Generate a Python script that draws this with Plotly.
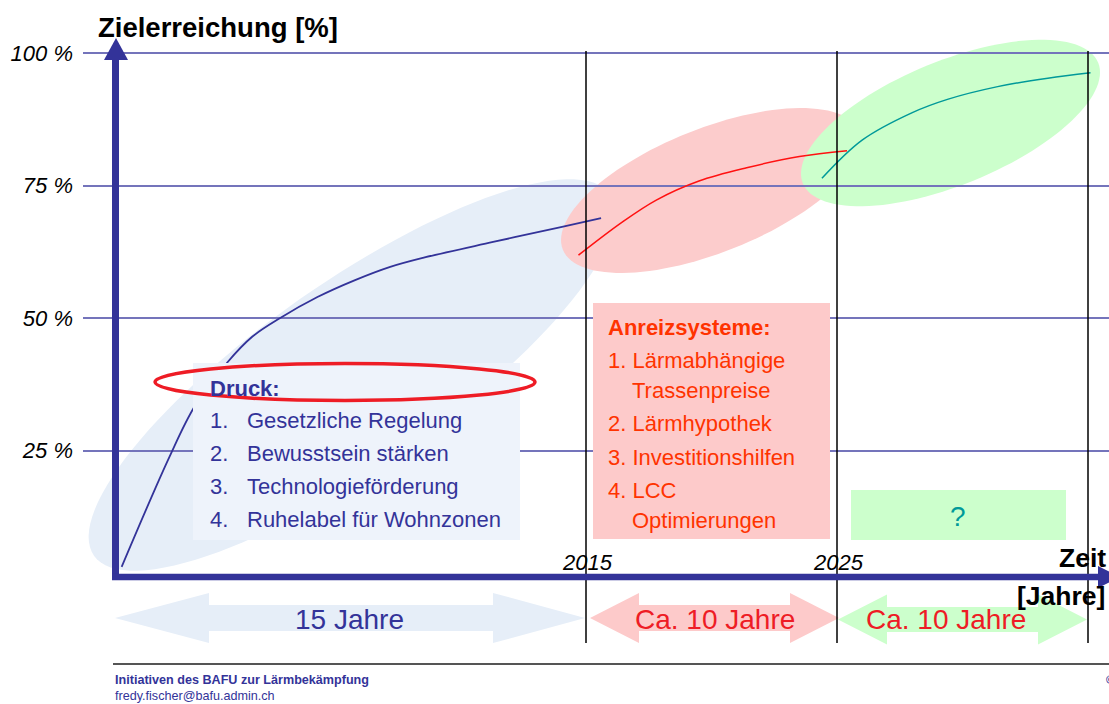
import numpy as np
import plotly.graph_objects as go

# ---------------- data ----------------
blue_years = [1996.5, 1998.4, 1999.4, 2000.7, 2001.7, 2002.8, 2004.3, 2005.8, 2007.2, 2008.5, 2011.3, 2014.0, 2015.6]
blue_pct = [3.1, 23.8, 33.3, 41.6, 46.5, 50.0, 54.0, 57.2, 59.7, 61.4, 64.4, 67.2, 68.9]
red_years = [2014.7, 2016.4, 2017.8, 2019.5, 2021.4, 2023.5, 2025.4]
red_pct = [61.9, 68.0, 72.3, 75.9, 78.4, 80.5, 81.6]
teal_years = [2024.4, 2026.0, 2028.0, 2029.4, 2031.4, 2033.4, 2035.1]
teal_pct = [76.4, 83.6, 88.8, 91.3, 93.7, 95.3, 96.3]

y_ticks = [25, 50, 75, 100]
y_tick_labels = ["25 %", "50 %", "75 %", "100 %"]
milestone_years = [2015, 2025, 2035]
milestone_labels = ["2015", "2025", ""]
period_labels = ["15 Jahre", "Ca. 10 Jahre", "Ca. 10 Jahre"]
druck_title = "Druck:"
druck_items = ["Gesetzliche Regelung", "Bewusstsein stärken",
               "Technologieförderung", "Ruhelabel für Wohnzonen"]
anreiz_title = "Anreizsysteme:"
anreiz_lines = ["1. Lärmabhängige", "Trassenpreise", "2. Lärmhypothek",
                "3. Investitionshilfen", "4. LCC", "Optimierungen"]
title_y = "Zielerreichung [%]"
footer_lines = ["Initiativen des BAFU zur Lärmbekämpfung", "fredy.fischer@bafu.admin.ch"]

# ---------------- styling ----------------
FONT = "Liberation Sans, Arial, sans-serif"
NAVY = "#333399"
W, H = 1109, 704
ML = 83                   # left edge of the plotting area (pixels)

fig = go.Figure()

spl = dict(shape="spline", smoothing=1.0)
fig.add_trace(go.Scatter(x=blue_years, y=blue_pct, mode="lines",
                         line=dict(color=NAVY, width=1.8, **spl),
                         hoverinfo="skip", showlegend=False))
fig.add_trace(go.Scatter(x=red_years, y=red_pct, mode="lines",
                         line=dict(color="#ff1111", width=1.5, **spl),
                         hoverinfo="skip", showlegend=False))
fig.add_trace(go.Scatter(x=teal_years, y=teal_pct, mode="lines",
                         line=dict(color="#009999", width=1.5, **spl),
                         hoverinfo="skip", showlegend=False))
# empty trace to instantiate the pixel overlay axes
fig.add_trace(go.Scatter(x=[], y=[], xaxis="x2", yaxis="y2", showlegend=False, hoverinfo="skip"))


def ellipse_path(cx, cy, a, b, deg, n=120):
    t = np.linspace(0, 2 * np.pi, n, endpoint=False)
    th = np.radians(deg)
    xs = cx + a * np.cos(t) * np.cos(th) + b * np.sin(t) * np.sin(th)
    ys = cy - a * np.cos(t) * np.sin(th) + b * np.sin(t) * np.cos(th)
    return "M " + " L ".join(f"{x:.1f},{y:.1f}" for x, y in zip(xs, ys)) + " Z"


def poly(pts):
    return "M " + " L ".join(f"{x},{y}" for x, y in pts) + " Z"


def dbl_arrow(x0, xb0, xb1, x1, yc, hh, sh):
    return poly([(x0, yc), (xb0, yc - hh), (xb0, yc - sh), (xb1, yc - sh), (xb1, yc - hh),
                 (x1, yc), (xb1, yc + hh), (xb1, yc + sh), (xb0, yc + sh), (xb0, yc + hh)])


shapes = []
P = dict(xref="x2", yref="y2")
# background ellipses (below gridlines)
shapes.append(dict(type="path", path=ellipse_path(352, 375, 315, 92, 35), fillcolor="#e6eef8",
                   line=dict(width=0), layer="below", **P))
shapes.append(dict(type="path", path=ellipse_path(711, 190.5, 159.5, 62, 21.7), fillcolor="#fccccc",
                   line=dict(width=0), layer="below", **P))
shapes.append(dict(type="path", path=ellipse_path(950.5, 123, 159.5, 62, 22.2), fillcolor="#ccffcc",
                   line=dict(width=0), layer="below", **P))

# period arrows
shapes.append(dict(type="path", path=dbl_arrow(115, 209, 493, 585, 618, 25, 13), fillcolor="#e6eef8",
                   line=dict(width=0), layer="above", **P))
shapes.append(dict(type="path", path=dbl_arrow(590, 639, 790, 839, 618, 25, 13), fillcolor="#fdcaca",
                   line=dict(width=0), layer="above", **P))
shapes.append(dict(type="path", path=dbl_arrow(838, 887, 1038, 1087, 619.5, 25, 12.5), fillcolor="#ccffcc",
                   line=dict(width=0), layer="above", **P))

# text boxes
shapes.append(dict(type="rect", x0=193, x1=520, y0=363, y1=540, fillcolor="#eef3fb",
                   line=dict(width=0), layer="above", **P))
shapes.append(dict(type="rect", x0=593, x1=830, y0=303, y1=539, fillcolor="#fdcaca",
                   line=dict(width=0), layer="above", **P))
shapes.append(dict(type="rect", x0=851, x1=1066, y0=490, y1=540, fillcolor="#ccffcc",
                   line=dict(width=0), layer="above", **P))

# red highlight ellipse around "Druck:"
shapes.append(dict(type="circle", x0=155, x1=535, y0=363.5, y1=400.5, fillcolor="rgba(0,0,0,0)",
                   line=dict(color="#ee1c25", width=3.5), layer="above", **P))

# milestone vertical lines
for yr in milestone_years:
    shapes.append(dict(type="line", xref="x", yref="y2", x0=yr, x1=yr, y0=51, y1=643,
                       line=dict(color="black", width=1.5), layer="above"))

# axes arrows
shapes.append(dict(type="line", x0=115.5, x1=115.5, y0=580, y1=58, line=dict(color=NAVY, width=7),
                   layer="above", **P))
shapes.append(dict(type="path", path=poly([(116, 38), (104, 60), (128, 60)]), fillcolor=NAVY,
                   line=dict(width=0), layer="above", **P))
shapes.append(dict(type="line", x0=112, x1=1100, y0=577, y1=577, line=dict(color=NAVY, width=6.5),
                   layer="above", **P))
shapes.append(dict(type="path", path=poly([(1120, 577), (1098, 566), (1098, 588)]), fillcolor=NAVY,
                   line=dict(width=0), layer="above", **P))

# footer rule
shapes.append(dict(type="line", x0=113, x1=1109, y0=664, y1=664, line=dict(color="#555555", width=2),
                   layer="above", **P))

ann = []


def txt(x, y, s, size, color, xanchor="left", xref="x2", yref="y2"):
    ann.append(dict(x=x, y=y, xref=xref, yref=yref, text=s, showarrow=False, xanchor=xanchor,
                    yanchor="middle", font=dict(family=FONT, size=size, color=color)))


txt(96, 27, f"<b>{title_y}</b>", 27.5, "black")
txt(1057, 558, "<b>Zeit</b>", 26.5, "black")
txt(1015, 596, "<b>[Jahre]</b>", 26.5, "black")

for yr, lab in zip(milestone_years, milestone_labels):
    if lab:
        txt(yr + 0.05, 562, f"<i>{lab}</i>", 22, "black", xanchor="center", xref="x")

# Druck box
txt(208, 388, f"<b>{druck_title}</b>", 22, NAVY)
for i, (item, yy) in enumerate(zip(druck_items, [420, 453, 486, 519])):
    txt(208, yy, f"{i + 1}.", 22, NAVY)
    txt(245, yy, item, 22, NAVY)

# Anreiz box
ORANGE = "#ff3300"
txt(606, 327, f"<b>{anreiz_title}</b>", 22, ORANGE)
for line, yy in zip(anreiz_lines, [360, 390, 423, 457, 490, 520]):
    xx = 606 if line[0].isdigit() else 630
    txt(xx, yy, line, 22, ORANGE)

txt(958, 516, "?", 28, "#009999", xanchor="center")

# period labels
for lab, xc, col in zip(period_labels, [349.5, 714.5, 945.5], [NAVY, "#ee1c25", "#ee1c25"]):
    txt(xc, 619, lab, 28, col, xanchor="center")

# footer
txt(113, 680, f"<b>{footer_lines[0]}</b>", 12.6, NAVY)
txt(113, 696, footer_lines[1], 12.6, NAVY)
txt(1104, 680, "<b>©</b>", 12.6, NAVY)

# pixel -> axis ranges
px_per_year = 25.1
x_range = [2015 - (586 - ML) / px_per_year, 2015 + (W - 586) / px_per_year]
px_per_pct = 5.3
zero_px = 583.25
y_range = [(zero_px - H) / px_per_pct, zero_px / px_per_pct]

fig.update_layout(
    width=W, height=H,
    margin=dict(l=ML, r=0, t=0, b=0, autoexpand=False),
    paper_bgcolor="white", plot_bgcolor="white",
    showlegend=False,
    shapes=shapes, annotations=ann,
    xaxis=dict(range=x_range, showgrid=False, zeroline=False, showline=False,
               showticklabels=False, ticks="", fixedrange=True),
    yaxis=dict(range=y_range, tickvals=y_ticks,
               ticktext=[f"<i>{t}</i>" for t in y_tick_labels],
               tickfont=dict(family=FONT, size=22, color="black"),
               showgrid=True, gridcolor="#7474bb", gridwidth=2,
               zeroline=False, showline=False, ticks="", ticklabelstandoff=9,
               automargin=False, fixedrange=True),
    xaxis2=dict(range=[ML, W], overlaying="x", visible=False, fixedrange=True),
    yaxis2=dict(range=[H, 0], overlaying="y", visible=False, fixedrange=True),
)

fig.write_html("out.html",
               config={"displayModeBar": False, "staticPlot": True},
               post_script="document.body.style.margin='0';document.body.style.overflow='hidden';")
